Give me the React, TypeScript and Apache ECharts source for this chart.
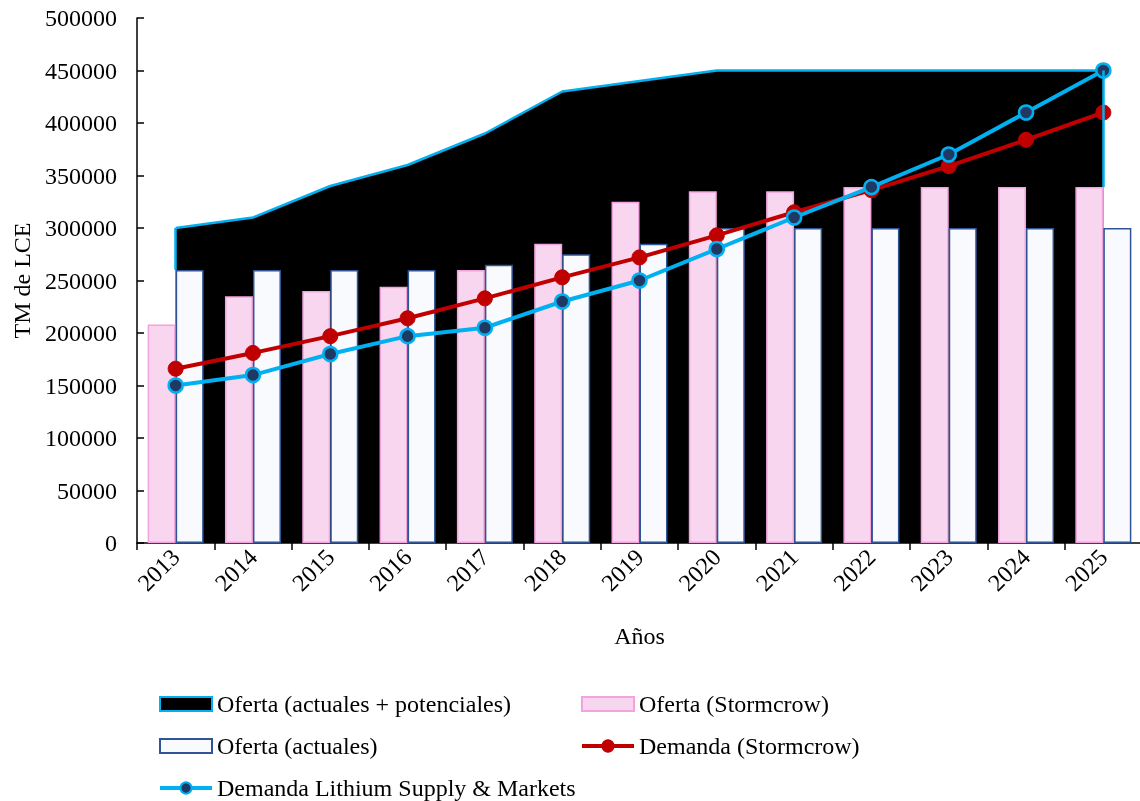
import React, { useEffect, useRef } from "react";
import * as echarts from "echarts";

const years = ["2013", "2014", "2015", "2016", "2017", "2018", "2019", "2020", "2021", "2022", "2023", "2024", "2025"];
const ofertaTotal = [300000, 310000, 340000, 360000, 390000, 430000, 440000, 450000, 450000, 450000, 450000, 450000, 450000];
const ofertaStormcrow = [208000, 235000, 240000, 244000, 260000, 285000, 325000, 335000, 335000, 339000, 339000, 339000, 339000];
const ofertaActuales = [260000, 260000, 260000, 260000, 265000, 275000, 285000, 300000, 300000, 300000, 300000, 300000, 300000];
const demandaStormcrow = [166000, 181000, 197000, 214000, 233000, 253000, 272000, 293000, 315000, 336000, 359000, 384000, 410000];
const demandaLSM = [150000, 160000, 180000, 197000, 205000, 230000, 250000, 280000, 310000, 339000, 370000, 410000, 450000];

const FONT = "'Liberation Serif', 'Times New Roman', serif";
const BLUE = "#00b0f0";
const RED = "#c00000";

export default function App() {
  const ref = useRef<HTMLDivElement>(null);
  useEffect(() => {
    if (!ref.current) return;
    const chart = echarts.init(ref.current, undefined, { renderer: "svg" });
    const last = years.length - 1;
    const edgeFirst = Math.max(ofertaStormcrow[0], ofertaActuales[0]);
    const edgeLast = Math.max(ofertaStormcrow[last], ofertaActuales[last]);
    const legendText = { fontFamily: FONT, fontSize: 24, color: "#000" };
    chart.setOption({
      animation: false,
      textStyle: { fontFamily: FONT, color: "#000" },
      grid: { left: 137, top: 18, width: 1005, height: 525, containLabel: false, outerBoundsMode: "none" },
      xAxis: {
        type: "category",
        data: years,
        name: "Años",
        nameLocation: "middle",
        nameGap: 81,
        nameTextStyle: { fontFamily: FONT, fontSize: 24, color: "#000" },
        axisLine: { lineStyle: { color: "#000", width: 1.5 } },
        axisTick: { show: true, length: 7, lineStyle: { color: "#000", width: 1.5 } },
        axisLabel: { rotate: 45, fontFamily: FONT, fontSize: 24, color: "#000", margin: 10 },
      },
      yAxis: {
        type: "value",
        min: 0,
        max: 500000,
        interval: 50000,
        name: "TM de LCE",
        nameLocation: "middle",
        nameGap: 102,
        nameTextStyle: { fontFamily: FONT, fontSize: 24, color: "#000" },
        axisLine: { show: true, lineStyle: { color: "#000", width: 1.5 } },
        axisTick: { show: true, inside: true, length: 7, lineStyle: { color: "#000", width: 1.5 } },
        splitLine: { show: false },
        axisLabel: { fontFamily: FONT, fontSize: 24, color: "#000", margin: 20, formatter: (v: number) => String(v) },
      },
      legend: [
        {
          orient: "vertical",
          left: 158,
          top: 692,
          height: 120,
          padding: 0,
          itemWidth: 52,
          itemHeight: 14,
          itemGap: 18,
          textStyle: legendText,
          data: [
            { name: "Oferta (actuales + potenciales)", icon: "rect", itemStyle: { color: "#000", borderColor: BLUE, borderWidth: 2 } },
            { name: "Oferta (actuales)", icon: "rect" },
            { name: "Demanda Lithium Supply & Markets", lineStyle: { width: 4, color: BLUE } },
          ],
        },
        {
          orient: "vertical",
          left: 580,
          top: 692,
          height: 120,
          padding: 0,
          itemWidth: 52,
          itemHeight: 14,
          itemGap: 18,
          textStyle: legendText,
          data: [
            { name: "Oferta (Stormcrow)", icon: "rect" },
            { name: "Demanda (Stormcrow)", lineStyle: { width: 4, color: RED } },
          ],
        },
      ],
      series: [
        {
          name: "Oferta (actuales + potenciales)",
          type: "line",
          data: ofertaTotal,
          showSymbol: false,
          symbol: "none",
          lineStyle: { color: BLUE, width: 2.5 },
          itemStyle: { color: "#000", borderColor: BLUE },
          areaStyle: { color: "#000", opacity: 1 },
          z: 1,
          markLine: {
            silent: true,
            symbol: "none",
            label: { show: false },
            lineStyle: { color: BLUE, width: 2.5, type: "solid" },
            data: [
              [{ coord: [years[0], edgeFirst] }, { coord: [years[0], ofertaTotal[0]] }],
              [{ coord: [years[last], edgeLast] }, { coord: [years[last], ofertaTotal[last]] }],
            ],
          },
        },
        {
          name: "Oferta (Stormcrow)",
          type: "bar",
          data: ofertaStormcrow,
          barWidth: 28,
          barGap: "0%",
          itemStyle: { color: "#f9d6ef", borderColor: "#f2a2dc", borderWidth: 1.5 },
          z: 2,
        },
        {
          name: "Oferta (actuales)",
          type: "bar",
          data: ofertaActuales,
          barWidth: 28,
          barGap: "0%",
          itemStyle: { color: "#f8fafd", borderColor: "#2f5597", borderWidth: 1.5 },
          z: 2,
        },
        {
          name: "Demanda (Stormcrow)",
          type: "line",
          data: demandaStormcrow,
          symbol: "circle",
          symbolSize: 15,
          lineStyle: { color: RED, width: 4 },
          itemStyle: { color: RED, borderColor: RED, borderWidth: 1 },
          z: 3,
        },
        {
          name: "Demanda Lithium Supply & Markets",
          type: "line",
          data: demandaLSM,
          symbol: "circle",
          symbolSize: 14,
          lineStyle: { color: BLUE, width: 4 },
          itemStyle: { color: "#203864", borderColor: BLUE, borderWidth: 2.5 },
          z: 4,
        },
      ],
    });
    return () => chart.dispose();
  }, []);
  return <div ref={ref} style={{ position: "fixed", left: 0, top: 0, width: 1140, height: 801 }} />;
}
